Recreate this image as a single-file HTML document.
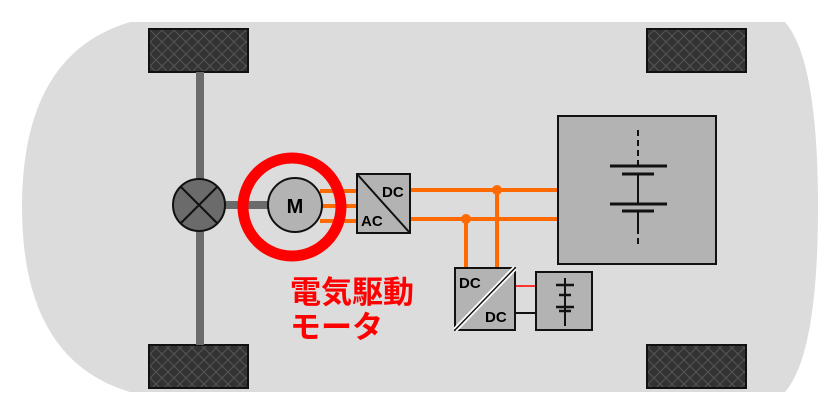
<!DOCTYPE html>
<html><head><meta charset="utf-8"><style>body{margin:0;background:#fff}svg{display:block}</style></head><body>
<svg width="833" height="410" viewBox="0 0 833 410" xmlns="http://www.w3.org/2000/svg">
<defs>
<pattern id="hx" width="12" height="12" patternUnits="userSpaceOnUse">
<rect width="12" height="12" fill="#333"/>
<path d="M0 0L12 12M12 0L0 12" stroke="#555" stroke-width="1"/>
</pattern>
</defs>
<path d="M130 22 L785 22 Q818 60 818 207 Q818 354 785 392 L130 392 Q22 360 22 207 Q22 54 130 22 Z" fill="#dcdcdc"/>
<g stroke="#111" stroke-width="2" fill="url(#hx)">
<rect x="149" y="29" width="99" height="43"/>
<rect x="647" y="29" width="99" height="43"/>
<rect x="149" y="345" width="99" height="43"/>
<rect x="647" y="345" width="99" height="43"/>
</g>
<rect x="196" y="72" width="8" height="273" fill="#6b6b6b"/>
<rect x="220" y="201" width="50" height="8" fill="#6b6b6b"/>
<circle cx="199" cy="205" r="26" fill="#6b6b6b" stroke="#111" stroke-width="2"/>
<path d="M181 187L217 223M217 187L181 223" stroke="#111" stroke-width="2"/>
<g stroke="#ff6a00" stroke-width="4" fill="none">
<path d="M320 191H357M320 206H357M320 221H357"/>
<path d="M410 190H558M410 219H558M497 190V268M466 219V268"/>
</g>
<circle cx="497" cy="190" r="5" fill="#ff6a00"/>
<circle cx="466" cy="219" r="5" fill="#ff6a00"/>
<circle cx="292" cy="207" r="49" fill="none" stroke="#f00" stroke-width="11"/>
<circle cx="295" cy="205" r="27" fill="#b3b3b3" stroke="#111" stroke-width="2"/>
<text x="295" y="213" font-family="Liberation Sans,sans-serif" font-weight="bold" font-size="20" text-anchor="middle">M</text>
<rect x="357" y="174" width="53" height="59" fill="#b3b3b3" stroke="#111" stroke-width="2"/>
<path d="M357 174L410 233" stroke="#111" stroke-width="2"/>
<text x="382" y="197" font-family="Liberation Sans,sans-serif" font-weight="bold" font-size="15">DC</text>
<text x="361" y="226" font-family="Liberation Sans,sans-serif" font-weight="bold" font-size="15">AC</text>
<rect x="558" y="116" width="158" height="148" fill="#b3b3b3" stroke="#111" stroke-width="2"/>
<g stroke="#111" stroke-width="2">
<path d="M638 130V166" stroke-dasharray="6 4"/>
<path d="M638 174V204M638 211V228"/>
<path d="M638 228V248" stroke-dasharray="6 4"/>
<path d="M610 166H667M622 174H654M610 204H667M622 211H654" stroke-width="3"/>
</g>
<path d="M515 286H536" stroke="#f33" stroke-width="2"/>
<path d="M515 313H536" stroke="#111" stroke-width="2"/>
<rect x="455" y="268" width="60" height="62" fill="#b3b3b3" stroke="#111" stroke-width="2"/>
<path d="M455 330L515 268" stroke="#fff" stroke-width="5"/>
<path d="M455 330L515 268" stroke="#111" stroke-width="1.5"/>
<text x="459" y="288" font-family="Liberation Sans,sans-serif" font-weight="bold" font-size="15">DC</text>
<text x="485" y="322" font-family="Liberation Sans,sans-serif" font-weight="bold" font-size="15">DC</text>
<rect x="536" y="272" width="56" height="58" fill="#b3b3b3" stroke="#111" stroke-width="2"/>
<g stroke="#111" stroke-width="2">
<path d="M565 278V326"/>
<path d="M556 285H574M559 295H571M556 307H574M559 311H571" stroke-width="2.5"/>
</g>
<text x="290" y="303" font-family="Liberation Sans,'Noto Sans CJK JP',sans-serif" font-weight="bold" font-size="31" fill="#f00">電気駆動</text>
<text x="290" y="338" font-family="Liberation Sans,'Noto Sans CJK JP',sans-serif" font-weight="bold" font-size="31" fill="#f00">モータ</text>
</svg>
</body></html>
